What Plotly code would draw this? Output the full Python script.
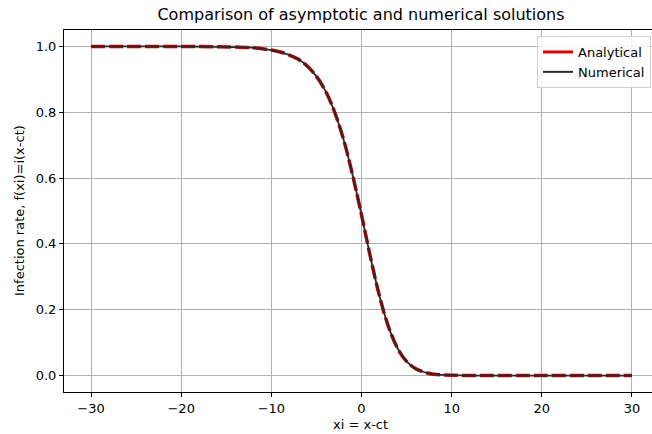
import plotly.graph_objects as go

# Data
xi = [-30, -25, -20, -16, -14, -12, -10, -9, -8, -7, -6, -5, -4, -3, -2, -1,
      0, 1, 2, 3, 4, 5, 6, 7, 8, 9, 10, 12, 14, 16, 20, 25, 30]
analytical = [1.000, 1.000, 1.000, 0.999, 0.998, 0.996, 0.989, 0.983, 0.974, 0.961,
              0.940, 0.909, 0.865, 0.802, 0.718, 0.611, 0.488, 0.359, 0.241, 0.148,
              0.083, 0.043, 0.021, 0.010, 0.004, 0.002, 0.001, 0.000, 0.000, 0.000,
              0.000, 0.000, 0.000]
numerical = [1.000, 1.000, 1.000, 0.999, 0.998, 0.996, 0.989, 0.983, 0.974, 0.961,
             0.940, 0.909, 0.865, 0.802, 0.718, 0.611, 0.488, 0.359, 0.241, 0.148,
             0.083, 0.043, 0.021, 0.010, 0.004, 0.002, 0.001, 0.000, 0.000, 0.000,
             0.000, 0.000, 0.000]
x_ticks = [-30, -20, -10, 0, 10, 20, 30]
y_ticks = [0.0, 0.2, 0.4, 0.6, 0.8, 1.0]

FONT = "DejaVu Sans"
RED = "#e00000"
CURVE_RED = "#c40000"
BLACK = "#2a2a2a"
FS = 13

fig = go.Figure()
fig.add_trace(go.Scatter(
    x=xi, y=analytical, mode="lines", name="Analytical", showlegend=False,
    line=dict(color=CURVE_RED, width=3.5, dash="14px,4px", shape="spline", smoothing=1.0),
))
fig.add_trace(go.Scatter(
    x=xi, y=numerical, mode="lines", name="Numerical", showlegend=False,
    line=dict(color=BLACK, width=1.8, shape="spline", smoothing=1.0),
))
# legend handles (solid, as in the reference legend)
fig.add_trace(go.Scatter(x=[None], y=[None], mode="lines", name="Analytical",
                         line=dict(color=RED, width=3)))
fig.add_trace(go.Scatter(x=[None], y=[None], mode="lines", name="Numerical",
                         line=dict(color=BLACK, width=2)))

W, H = 652, 434
L, T, B = 64, 30, 42
pw, ph = W - L, H - T - B


def px_x(x):
    return (x - L) / pw


def px_y(y):
    return (H - B - y) / ph


fig.update_layout(
    width=W, height=H,
    margin=dict(l=L, r=0, t=T, b=B),
    paper_bgcolor="white", plot_bgcolor="white",
    font=dict(family=FONT, size=FS, color="black"),
    title=dict(text="Comparison of asymptotic and numerical solutions",
               x=361 / W, xref="container", xanchor="center",
               y=1 - 14.5 / H, yref="container", yanchor="middle",
               font=dict(family=FONT, size=16, color="black")),
    showlegend=True,
    legend=dict(x=px_x(537), y=px_y(36),
                xanchor="left", yanchor="top",
                bgcolor="rgba(255,255,255,0.85)", bordercolor="#d0d0d0", borderwidth=1,
                font=dict(family=FONT, size=FS, color="black"),
                itemwidth=30, tracegroupgap=0),
    xaxis=dict(range=[-33, -33 + pw / 9.015], tickvals=x_ticks,
               ticktext=[str(v).replace("-", "\u2212") for v in x_ticks],
               showgrid=True, gridcolor="#b0b0b0", gridwidth=1,
               zeroline=False, showline=True, linecolor="black", linewidth=1, mirror=True,
               ticks="outside", ticklen=4, tickcolor="black", tickwidth=1,
               tickfont=dict(family=FONT, size=FS, color="black")),
    yaxis=dict(range=[-0.05, 1.05], tickvals=y_ticks,
               ticktext=[f"{v:.1f}" for v in y_ticks],
               showgrid=True, gridcolor="#b0b0b0", gridwidth=1,
               zeroline=False, showline=True, linecolor="black", linewidth=1, mirror=False,
               ticks="outside", ticklen=4, tickcolor="black", tickwidth=1,
               tickfont=dict(family=FONT, size=FS, color="black")),
    annotations=[
        dict(text="xi = x-ct", x=px_x(361), y=px_y(424), xref="paper", yref="paper",
             xanchor="center", yanchor="middle", showarrow=False,
             font=dict(family=FONT, size=FS, color="black")),
        dict(text="Infection rate, f(xi)=i(x-ct)", x=px_x(19), y=px_y(211),
             xref="paper", yref="paper", xanchor="center", yanchor="middle",
             showarrow=False, textangle=-90,
             font=dict(family=FONT, size=FS, color="black")),
    ],
)

fig.write_html("out.html", config={"displayModeBar": False},
               post_script="document.body.style.margin='0';document.body.style.overflow='hidden';")
